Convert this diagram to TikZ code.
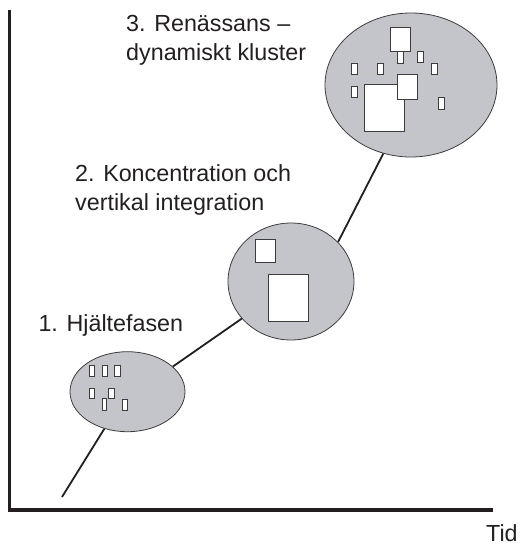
\documentclass[tikz,border=0pt]{standalone}
\usepackage{fontspec}
\setmainfont{Liberation Sans}
\usetikzlibrary{shapes.geometric}
\definecolor{clfill}{RGB}{195,197,203}
\definecolor{clline}{RGB}{60,60,62}
\definecolor{ink}{RGB}{35,31,32}
\tikzset{
	cluster/.style={ellipse,draw=clline,line width=0.8pt,fill=clfill,inner sep=0pt},
	sq/.style={draw=clline,line width=0.9pt,fill=white},
	phase/.style={anchor=base west,align=left,inner sep=0pt,text=ink,font=\fontsize{23.3}{29}\selectfont},
	axisline/.style={draw=ink,line width=3.2pt},
	path/.style={draw=ink,line width=1.8pt}
}
\begin{document}
\begin{tikzpicture} [x=1pt,y=-1pt]
		\useasboundingbox (0,0) rectangle (521,547);
		\draw [axisline] (9.5,10) -- (9.5,510) -- (493,510);
		\node [phase] (tid) at (486,541.7) {Tid};
		% kluster
		\node [cluster,minimum width=115pt,minimum height=80pt] (c1) at (127.5,391.7) {};
		\node [cluster,minimum width=126pt,minimum height=117pt] (c2) at (291,281.5) {};
		\node [cluster,minimum width=172pt,minimum height=144pt] (c3) at (411,85) {};
		\coordinate (start) at (62,497);
		\draw [path] (start) -- (c1.238.5);
		\draw [path] (c1.29.6) -- (c2.217);
		\draw [path] (c2.40) -- (c3.248);
		% 1
		\draw [sq] (89.3,365.7) rectangle (94.3,376);
		\draw [sq] (102,365.7) rectangle (107,376);
		\draw [sq] (114.7,365.7) rectangle (120,376);
		\draw [sq] (89.3,388.3) rectangle (94.3,398.3);
		\draw [sq] (108.3,388.3) rectangle (114,398.3);
		\draw [sq] (102,398.3) rectangle (106.7,410.7);
		\draw [sq] (122,399.3) rectangle (127.3,410.7);
		% 2
		\draw [sq] (255,239) rectangle (275,262);
		\draw [sq] (268,274) rectangle (308,321);
		% 3
		\draw [sq] (390.7,27.7) rectangle (410.7,51.7);
		\draw [sq] (397.7,51.7) rectangle (403.7,63.3);
		\draw [sq] (417.3,51) rectangle (423.3,62.7);
		\draw [sq] (431,63.3) rectangle (437,74);
		\draw [sq] (351.7,63.3) rectangle (357.3,74);
		\draw [sq] (377.7,63.3) rectangle (383.3,74);
		\draw [sq] (351.7,86.7) rectangle (357.3,97.3);
		\draw [sq] (364.3,84) rectangle (404.3,131.7);
		\draw [sq] (397.3,74) rectangle (417.3,99);
		\draw [sq] (438.3,97.3) rectangle (444,109.3);
		% texter
		\node [phase] (t1) at (38.3,331.7) {1. Hjältefasen};
		\node [phase] (t2) at (75,210.5) {2. Koncentration och\\vertikal integration};
		\node [phase] (t3) at (126,60.7) {3. Renässans –\\dynamiskt kluster};
	\end{tikzpicture}
\end{document}
